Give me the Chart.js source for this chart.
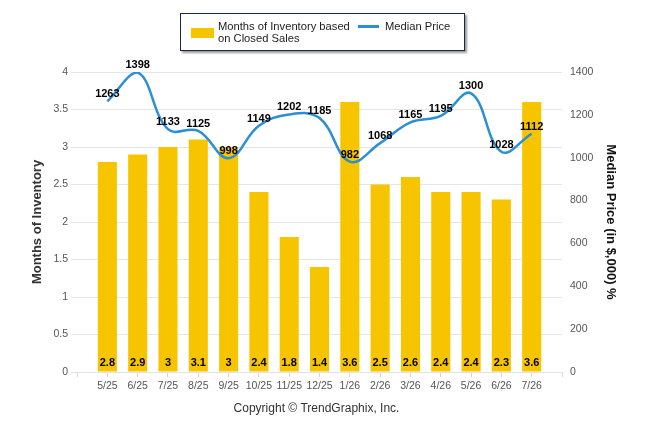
<!DOCTYPE html>
<html>
<head>
<meta charset="utf-8">
<title>Months of Inventory vs Median Price</title>
<script src="https://cdn.jsdelivr.net/npm/chart.js@4.4.1/dist/chart.umd.min.js"></script>
<style>
    body { margin: 0; background: #fff; font-family: "Liberation Sans", Arial, sans-serif; }
    #wrap { position: relative; width: 646px; height: 434px; }
    #legend {
        position: absolute; left: 180px; top: 13px; width: 283px; height: 36px;
        border: 1px solid #1c2745; box-shadow: 2px 2px 2px #9a9a9a; background: #fff;
        font-size: 11.2px; color: #222; line-height: 12px;
    }
    #legend .bar-swatch { position: absolute; left: 10px; top: 14px; width: 23px; height: 10px; background: #f7c500; }
    #legend .bar-text { position: absolute; left: 37px; top: 6px; }
    #legend .line-swatch { position: absolute; left: 177px; top: 11px; width: 21px; height: 3px; background: #2b8fd6; }
    #legend .line-text { position: absolute; left: 204px; top: 6px; }
</style>
</head>
<body>
<div id="wrap">
    <canvas id="inventory-chart" width="646" height="434"></canvas>
    <div id="legend">
        <span class="bar-swatch"></span>
        <span class="bar-text">Months of Inventory based<br>on Closed Sales</span>
        <span class="line-swatch"></span>
        <span class="line-text">Median Price</span>
    </div>
</div>
<script>
// Chart data
const months = ['5/25', '6/25', '7/25', '8/25', '9/25', '10/25', '11/25', '12/25',
                '1/26', '2/26', '3/26', '4/26', '5/26', '6/26', '7/26'];
const inventory = [2.8, 2.9, 3, 3.1, 3, 2.4, 1.8, 1.4, 3.6, 2.5, 2.6, 2.4, 2.4, 2.3, 3.6];
const medianPrice = [1263, 1398, 1133, 1125, 998, 1149, 1202, 1185, 982, 1068, 1165, 1195, 1300, 1028, 1112];
const inventoryTicks = [0, 0.5, 1, 1.5, 2, 2.5, 3, 3.5, 4];
const priceTicks = [0, 200, 400, 600, 800, 1000, 1200, 1400];

Chart.defaults.font.family = '"Liberation Sans", Arial, sans-serif';

const tickFont = { size: 10.5 };

// Draws the numbers on the bars and above the line points
const valueLabels = {
    id: 'valueLabels',
    afterDatasetsDraw(chart) {
        const ctx = chart.ctx;
        ctx.save();
        ctx.font = 'bold 11px "Liberation Sans", Arial, sans-serif';
        ctx.fillStyle = '#000';
        ctx.textAlign = 'center';
        ctx.textBaseline = 'middle';
        chart.getDatasetMeta(0).data.forEach((bar, i) => {
            ctx.fillText(String(inventory[i]), bar.x, bar.base - 9);
        });
        chart.getDatasetMeta(1).data.forEach((pt, i) => {
            ctx.fillText(String(medianPrice[i]), pt.x, pt.y - 7);
        });
        ctx.restore();
    }
};

const ctx = document.getElementById('inventory-chart');

new Chart(ctx, {
    type: 'bar',
    data: {
        datasets: [{
            label: 'Months of Inventory based on Closed Sales',
            data: inventory.map((v, i) => ({ x: i, y: v })),
            backgroundColor: '#f7c500',
            barPercentage: 0.7,
            categoryPercentage: 0.9,
            yAxisID: 'y',
            order: 1
        }, {
            type: 'line',
            label: 'Median Price',
            data: medianPrice.map((v, i) => ({ x: i, y: v })),
            borderColor: '#2b8fd6',
            borderWidth: 2.5,
            tension: 0.4,
            pointRadius: 0,
            fill: false,
            yAxisID: 'y1',
            order: 0
        }]
    },
    options: {
        responsive: false,
        animation: false,
        layout: { padding: { top: 72, bottom: 14, left: 0, right: 0 } },
        plugins: {
            legend: { display: false },
            tooltip: { enabled: false }
        },
        scales: {
            x: {
                type: 'linear',
                offset: false,
                min: -1.2,
                max: 15,
                afterBuildTicks: s => {
                    s.ticks = Array.from({ length: months.length + 2 }, (_, i) => ({ value: i - 1 }));
                },
                grid: { offset: false, drawOnChartArea: false, drawTicks: true, tickLength: 5, color: '#d6d6d6' },
                border: { color: '#e3e3e3' },
                ticks: {
                    autoSkip: false,
                    maxRotation: 0,
                    color: '#555',
                    font: tickFont,
                    padding: 3,
                    callback: v => months[v] ?? ''
                },
                title: {
                    display: true,
                    text: 'Copyright © TrendGraphix, Inc.',
                    color: '#333',
                    font: { size: 12 },
                    padding: { top: 0, bottom: 4 }
                },
                afterFit: s => { s.height = 48; }
            },
            y: {
                position: 'left',
                min: 0,
                max: 4,
                afterBuildTicks: s => { s.ticks = inventoryTicks.map(v => ({ value: v })); },
                grid: { color: '#e6e6e6', drawTicks: false },
                border: { display: false },
                ticks: { color: '#555', font: tickFont, padding: 3, callback: v => String(v) },
                title: {
                    display: true,
                    text: 'Months of Inventory',
                    color: '#333',
                    font: { size: 13, weight: 'bold' },
                    padding: { top: 30 }
                },
                afterFit: s => { s.width = 71; }
            },
            y1: {
                position: 'right',
                min: 0,
                max: 1400,
                afterBuildTicks: s => { s.ticks = priceTicks.map(v => ({ value: v })); },
                grid: { drawOnChartArea: false, drawTicks: false },
                border: { display: false },
                ticks: { color: '#555', font: tickFont, padding: 8, callback: v => String(v) },
                title: {
                    display: true,
                    text: 'Median Price (in $,000) %',
                    color: '#111',
                    font: { size: 13, weight: 'bold' },
                    padding: { top: 28 }
                },
                afterFit: s => { s.width = 84; }
            }
        }
    },
    plugins: [valueLabels]
});
</script>
</body>
</html>
